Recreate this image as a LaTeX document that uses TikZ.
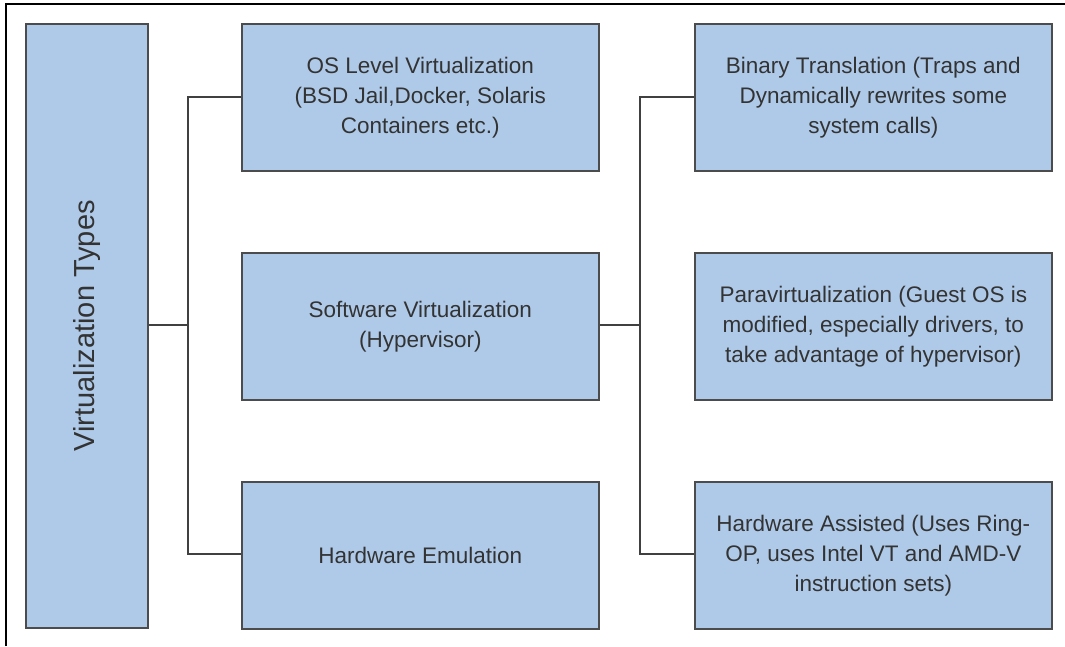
\documentclass[tikz,border=0pt]{standalone}
\usepackage{fontspec}
\setmainfont{Liberation Sans}
\begin{document}
\begin{tikzpicture}[x=1pt,y=-1pt,
  box/.style={draw=black!70, line width=1.6pt, fill=boxblue, inner sep=0pt, anchor=north west,
    text=black!80, align=center, font=\fontsize{22.5}{30}\selectfont},
  conn/.style={draw=black!75, line width=1.2pt}]
\definecolor{boxblue}{HTML}{AFCAE8}
\useasboundingbox (0,0) rectangle (1065,646);
\draw[line width=2.2pt] (6,646) -- (6,4) -- (1065,4);
\node[box, minimum width=122pt, minimum height=604pt] (vt) at (25,23) {};
\node[rotate=90, text=black!80, font=\fontsize{29}{32}\selectfont] (vtl) at (vt.center) {Virtualization Types};
\node[box, minimum width=357pt, minimum height=147pt] (os) at (241,23) {OS Level Virtualization\\(BSD Jail,Docker, Solaris\\Containers etc.)};
\node[box, minimum width=357pt, minimum height=147pt] (sw) at (241,252) {Software Virtualization\\(Hypervisor)};
\node[box, minimum width=357pt, minimum height=147pt] (hw) at (241,481) {Hardware Emulation};
\node[box, minimum width=357pt, minimum height=147pt] (bt) at (694,23) {Binary Translation (Traps and\\Dynamically rewrites some\\system calls)};
\node[box, minimum width=357pt, minimum height=147pt] (pv) at (694,252) {Paravirtualization (Guest OS is\\modified, especially drivers, to\\take advantage of hypervisor)};
\node[box, minimum width=357pt, minimum height=147pt] (ha) at (694,481) {Hardware Assisted (Uses Ring-\\OP, uses Intel VT and AMD-V\\instruction sets)};
\coordinate (j1) at (188,325);
\coordinate (j2) at (640,325);
\draw[conn] (vt.east |- j1) -- (j1);
\draw[conn] (os.west |- 0,97) -| (j1) |- (hw.west |- 0,554);
\draw[conn] (sw.east |- j2) -- (j2);
\draw[conn] (bt.west |- 0,97) -| (j2) |- (ha.west |- 0,554);
\end{tikzpicture}
\end{document}
